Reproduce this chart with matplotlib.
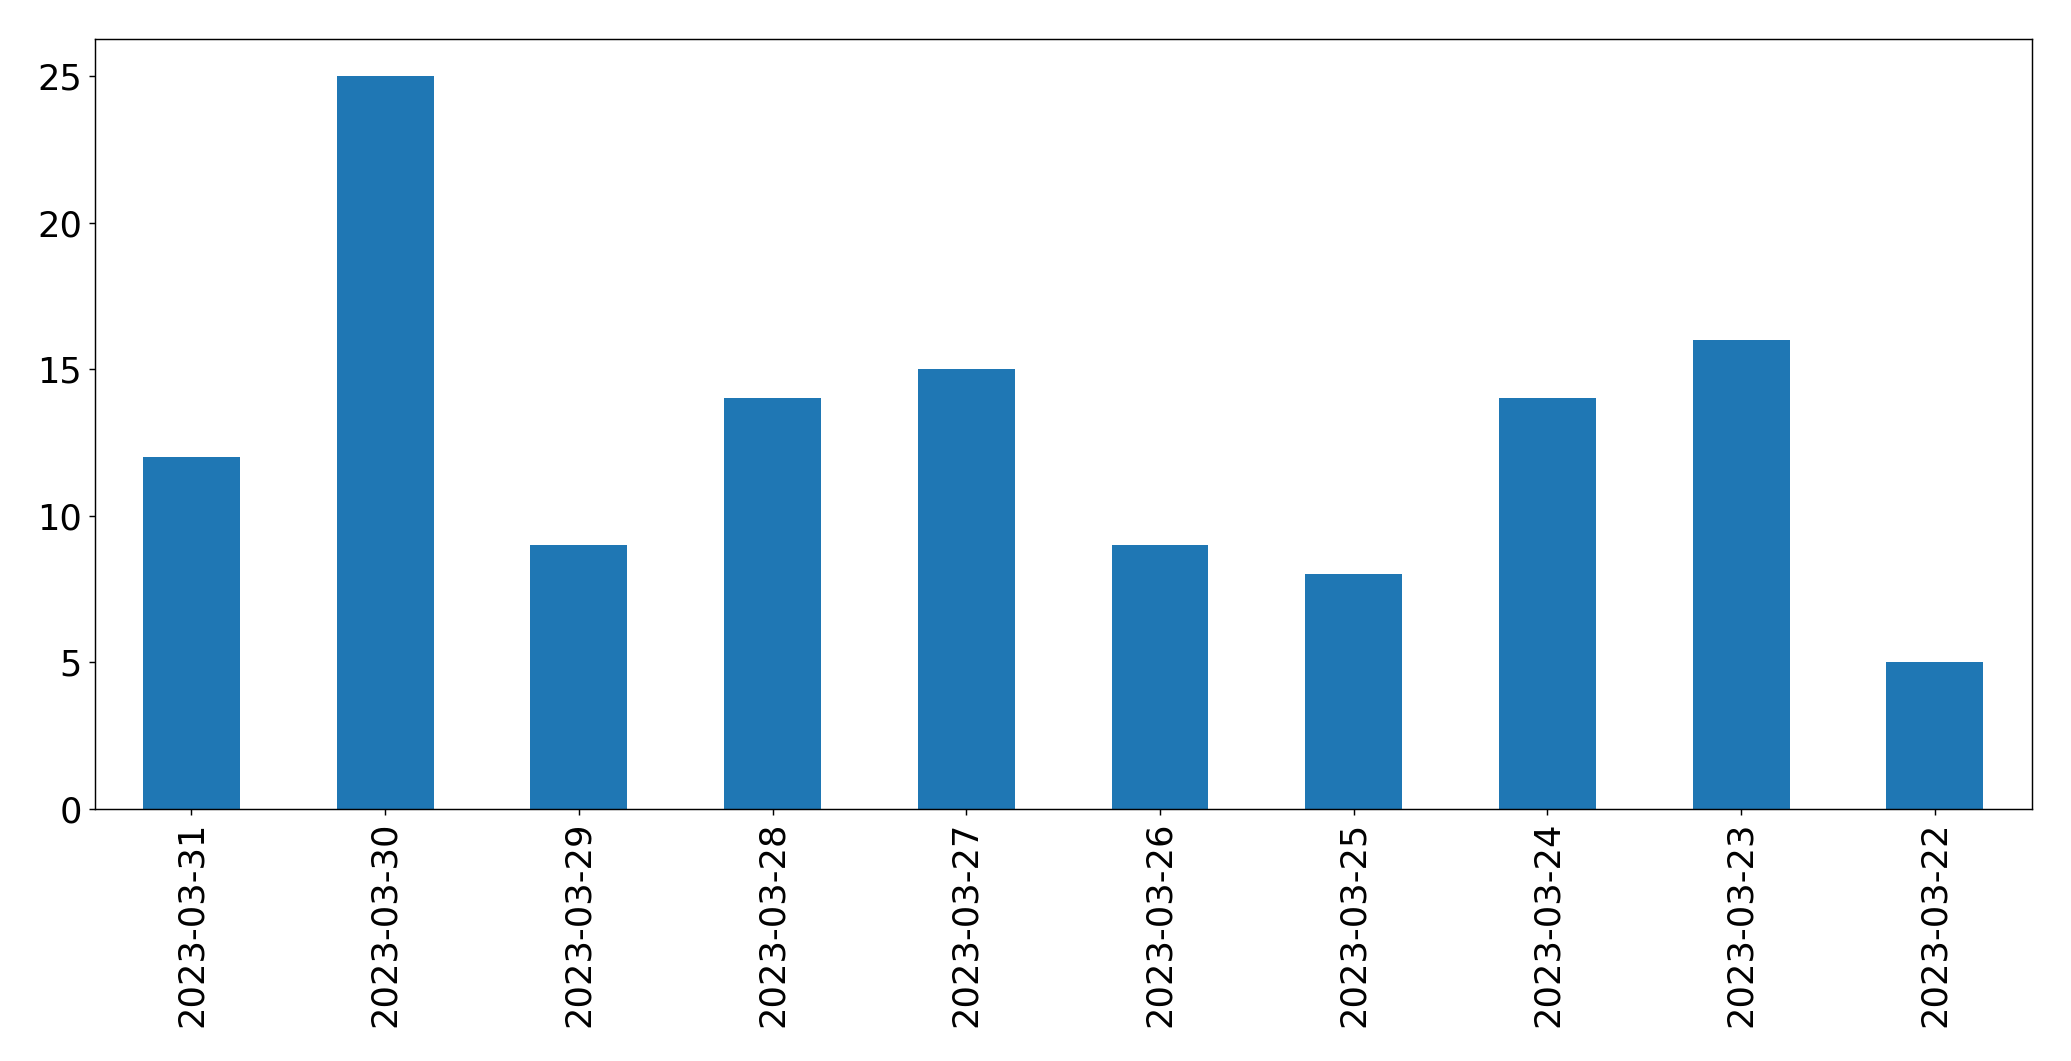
import matplotlib
matplotlib.use("Agg")
import matplotlib.pyplot as plt

dates = ["2023-03-31", "2023-03-30", "2023-03-29", "2023-03-28", "2023-03-27",
         "2023-03-26", "2023-03-25", "2023-03-24", "2023-03-23", "2023-03-22"]
counts = [12, 25, 9, 14, 15, 9, 8, 14, 16, 5]

dpi = 130
fig = plt.figure(figsize=(2071 / dpi, 1061 / dpi), dpi=dpi)
ax = fig.add_axes([0.0457, 0.2375, 0.981 - 0.0457, 0.963 - 0.2375])
x = list(range(len(dates)))
ax.bar(x, counts, width=0.5, color="#1f77b4")
ax.set_xlim(-0.5, len(dates) - 0.5)
ax.set_ylim(0, max(counts) * 1.05)
ax.set_xticks(x)
ax.set_xticklabels(dates, rotation=90)
ax.tick_params(axis="both", labelsize=19.5)
fig.savefig("out.png", dpi=dpi)
